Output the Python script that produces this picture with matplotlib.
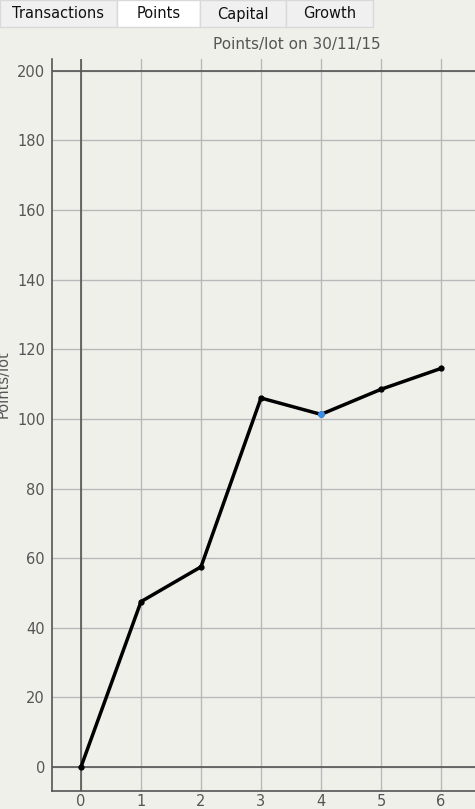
import matplotlib.pyplot as plt
from matplotlib.patches import Rectangle

# data
x_vals = [0, 1, 2, 3, 4, 5, 6]
y_vals = [0, 47.5, 57.5, 106, 101.3, 108.5, 114.5]
selected = 4
tabs = ["Transactions", "Points", "Capital", "Growth"]
tab_edges = [0, 117, 200, 286, 373]
active_tab = 1

W, H = 475, 809
bg = "#f0f0eb"
txt = "#555555"

fig = plt.figure(figsize=(W / 100, H / 100), dpi=100, facecolor=bg)

# tab strip
for i, name in enumerate(tabs):
    x0, x1 = tab_edges[i], tab_edges[i + 1]
    fc = "white" if i == active_tab else "#f0f0f0"
    fig.patches.append(Rectangle((x0 / W, 1 - 27 / H), (x1 - x0) / W, 27 / H,
                                 transform=fig.transFigure, facecolor=fc,
                                 edgecolor="#d9d9d9", lw=1))
    fig.text((x0 + x1) / 2 / W, 1 - 14 / H, name, ha="center", va="center",
             fontsize=10.5, color="#111111")

ax = fig.add_axes([52 / W, 18 / H, (W - 52) / W, 732 / H])
ax.set_facecolor(bg)
ax.set_xlim(-0.483, 6.567)
ax.set_ylim(-6.9, 203.4)

ax.set_xticks(x_vals)
ax.set_yticks(range(0, 201, 20))
ax.grid(True, color="#b8b8b8", lw=1)
ax.set_axisbelow(True)
ax.axhline(0, color="#555555", lw=1.2)
ax.axvline(0, color="#555555", lw=1.2)
ax.axhline(200, color="#555555", lw=1.2)

for s in ["top", "right"]:
    ax.spines[s].set_visible(False)
for s in ["left", "bottom"]:
    ax.spines[s].set_color("#555555")
    ax.spines[s].set_linewidth(1.2)

ax.tick_params(length=0, labelsize=10.5, colors=txt)
ax.tick_params(axis="x", pad=2)
ax.tick_params(axis="y", pad=5)

ax.plot(x_vals, y_vals, color="black", lw=2.5, marker="o", ms=3.5,
        zorder=5)
ax.plot([x_vals[selected]], [y_vals[selected]], "o", color="#3a8ee6",
        ms=4, zorder=6)

fig.text(297 / W, 1 - 45 / H, "Points/lot on 30/11/15", ha="center",
         va="center", fontsize=11, color=txt)
fig.text(-4 / W, 425 / H, "Points/lot", rotation=90, ha="left",
         va="center", fontsize=10.5, color=txt)

fig.savefig("out.png", dpi=100, facecolor=bg)
